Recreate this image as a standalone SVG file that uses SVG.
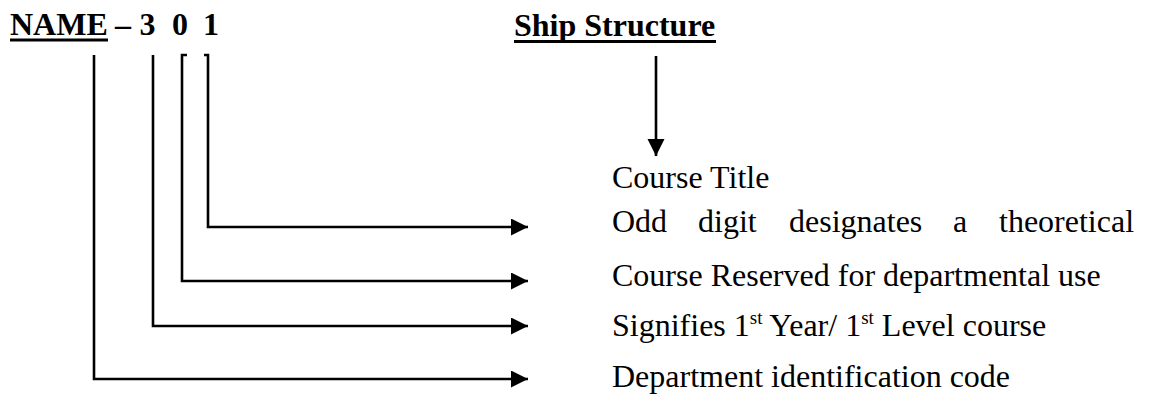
<svg xmlns="http://www.w3.org/2000/svg" width="1149" height="407" viewBox="0 0 1149 407">
<style>
.t{font-family:"Liberation Serif","Times New Roman",serif;font-size:32px;fill:#000}
.b{font-weight:bold}
.ln{stroke:#000;stroke-width:2.6;fill:none}
.sup{font-size:19px}
</style>
<defs>
<marker id="ah" markerUnits="userSpaceOnUse" markerWidth="20" markerHeight="18" refX="17" refY="8.5" orient="auto">
<path d="M0,0 L17,8.5 L0,17 Z" fill="#000"/>
</marker>
</defs>
<rect width="1149" height="407" fill="#fff"/>
<g id="code">
<text class="t b" y="35"><tspan x="10">NAME</tspan><tspan x="115">–</tspan><tspan x="139.5">3</tspan><tspan x="172">0</tspan><tspan x="203">1</tspan></text>
<rect x="10" y="38.5" width="98" height="3"/>
</g>
<g id="title">
<text class="t b" x="514" y="36">Ship Structure</text>
<rect x="514" y="40" width="202" height="3"/>
</g>
<g id="course-title"><text class="t" x="612" y="188">Course Title</text></g>
<g id="odd"><text class="t" y="232"><tspan x="612">Odd</tspan><tspan x="698">digit</tspan><tspan x="789">designates</tspan><tspan x="953">a</tspan><tspan x="999">theoretical</tspan></text></g>
<g id="reserved"><text class="t" x="612" y="286">Course Reserved for departmental use</text></g>
<g id="level"><text class="t" x="612" y="336">Signifies 1<tspan class="sup" dy="-12">st</tspan><tspan dy="12"> Year/ 1</tspan><tspan class="sup" dy="-12">st</tspan><tspan dy="12"> Level course</tspan></text></g>
<g id="dept"><text class="t" x="612" y="387">Department identification code</text></g>
<g id="connectors">
<line class="ln" x1="656" y1="56" x2="656" y2="156" marker-end="url(#ah)"/>
<path class="ln" d="M204,55 H208 V227 H528" marker-end="url(#ah)"/>
<path class="ln" d="M187,55 H182 V281 H528" marker-end="url(#ah)"/>
<path class="ln" d="M153,55 V326 H528" marker-end="url(#ah)"/>
<path class="ln" d="M94,55 V379 H528" marker-end="url(#ah)"/>
</g>
</svg>
